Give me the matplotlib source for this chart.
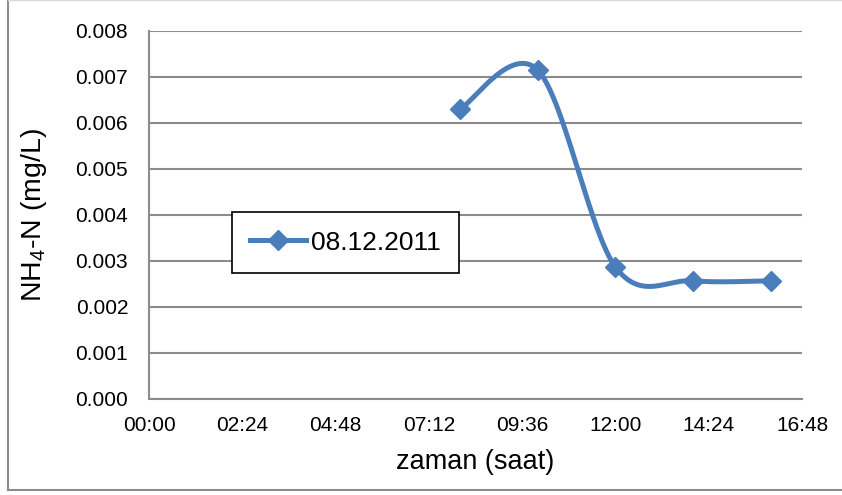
import numpy as np
import matplotlib
matplotlib.use('Agg')
import matplotlib.pyplot as plt
from matplotlib.lines import Line2D

plt.rcParams['font.family'] = ['Liberation Sans', 'DejaVu Sans']
plt.rcParams['mathtext.fontset'] = 'custom'
plt.rcParams['mathtext.rm'] = 'Liberation Sans'
plt.rcParams['mathtext.it'] = 'Liberation Sans'

# ölçüm saatleri (saat) ve NH4-N değerleri
saat = [8.0, 10.0, 12.0, 14.0, 16.0]
nh4n = [0.0063, 0.00715, 0.00287, 0.00257, 0.00257]
seri_adi = '08.12.2011'

x_ticks = [0, 2.4, 4.8, 7.2, 9.6, 12.0, 14.4, 16.8]
x_labels = ['00:00', '02:24', '04:48', '07:12', '09:36', '12:00', '14:24', '16:48']
y_ticks = [0.000, 0.001, 0.002, 0.003, 0.004, 0.005, 0.006, 0.007, 0.008]

renk = '#4a7ebb'
izgara = '#8c8c8c'


def smooth_curve(xs, ys, sx, sy, n=60):
    """Excel tarzı yumuşatma: Catmull-Rom eğrisi (piksel ölçeğinde)."""
    px = np.asarray(xs) * sx
    py = np.asarray(ys) * sy
    pts = np.column_stack([px, py])
    pts = np.vstack([pts[0], pts, pts[-1]])
    out = []
    for i in range(1, len(pts) - 2):
        p0, p1, p2, p3 = pts[i - 1], pts[i], pts[i + 1], pts[i + 2]
        c1 = p1 + (p2 - p0) / 6.0
        c2 = p2 - (p3 - p1) / 6.0
        t = np.linspace(0, 1, n)[:, None]
        seg = ((1 - t) ** 3) * p1 + 3 * ((1 - t) ** 2) * t * c1 \
            + 3 * (1 - t) * t ** 2 * c2 + t ** 3 * p2
        out.append(seg if i == 1 else seg[1:])
    out = np.vstack(out)
    return out[:, 0] / sx, out[:, 1] / sy


fig = plt.figure(figsize=(8.42, 4.95), dpi=100)
ax = fig.add_axes([149 / 842, 96 / 495, 653 / 842, 368 / 495])

ax.set_xlim(0, 16.8)
ax.set_ylim(0, 0.008)

# eksen ölçekleri (piksel / birim)
sx = 653 / 16.8
sy = 368 / 0.008
cx, cy = smooth_curve(saat, nh4n, sx, sy)
ax.plot(cx, cy, color=renk, lw=3.6, solid_capstyle='round', zorder=3)
ax.plot(saat, nh4n, ls='none', marker='D', ms=10, color=renk, zorder=4)

ax.set_xticks(x_ticks)
ax.set_xticklabels(x_labels, fontsize=15)
ax.set_yticks(y_ticks)
ax.set_yticklabels([f'{v:.3f}' for v in y_ticks], fontsize=15)
ax.tick_params(length=0)
ax.tick_params(axis='x', pad=12)
ax.tick_params(axis='y', pad=15)
ax.grid(axis='y', color=izgara, lw=1.5)
ax.set_axisbelow(True)

for s in ['top', 'right']:
    ax.spines[s].set_visible(False)
for s in ['left', 'bottom']:
    ax.spines[s].set_color(izgara)
    ax.spines[s].set_linewidth(1.5)

ax.set_xlabel('zaman (saat)', fontsize=19.5, labelpad=10)
ax.set_ylabel('NH$_4$-N (mg/L)', fontsize=20.5, labelpad=19)

handle = Line2D([], [], color=renk, lw=3.6, marker='D', ms=10)
leg = ax.legend([handle], [seri_adi], loc='center',
                bbox_to_anchor=(0.301, 0.425), fontsize=19,
                frameon=True, fancybox=False, framealpha=1,
                handlelength=2.1, handletextpad=0.2, borderpad=0.7,
                borderaxespad=0)
leg.get_frame().set_edgecolor('black')
leg.get_frame().set_linewidth(1.2)

# grafik alanı çerçevesi
fig.add_artist(Line2D([8 / 842, 8 / 842], [5 / 495, 1.0], color='#8c8c8c', lw=1.5))
fig.add_artist(Line2D([8 / 842, 1.0], [5 / 495, 5 / 495], color='#8c8c8c', lw=1.5))
fig.add_artist(Line2D([8 / 842, 1.0], [0.999, 0.999], color='#d9d9d9', lw=1.0))

fig.savefig('out.png', dpi=100)
